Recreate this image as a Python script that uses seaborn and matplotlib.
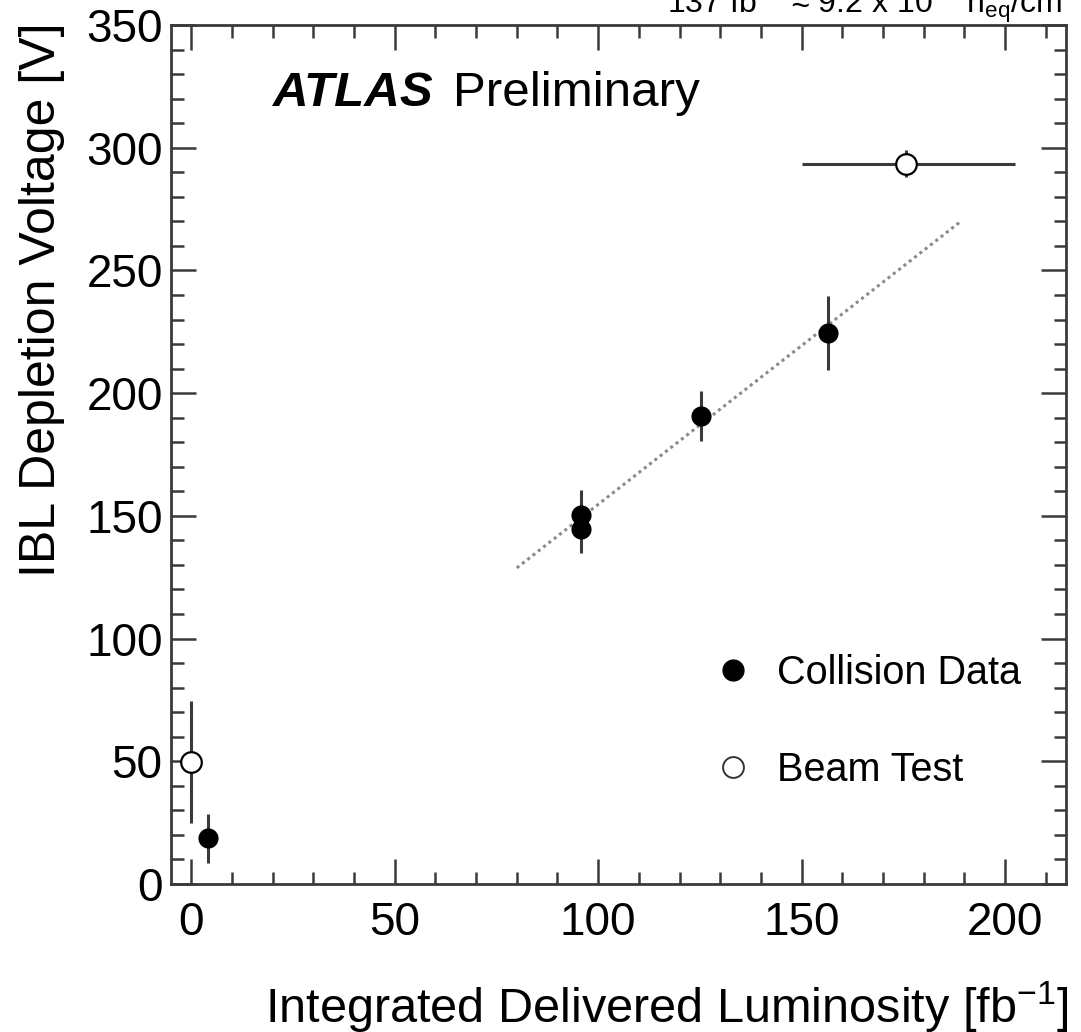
import matplotlib
matplotlib.use("Agg")
import matplotlib.pyplot as plt
from matplotlib.lines import Line2D
from matplotlib.ticker import MultipleLocator
import seaborn as sns
import pandas as pd

# ---- data ----
coll_lumi = [4.2, 95.8, 95.8, 125.3, 156.5]
coll_vdep = [18.7, 144.7, 150.5, 190.7, 224.5]
coll_err = [10, 10, 10, 10, 15]

beam_lumi = [0.0, 175.7]
beam_vdep = [49.7, 293.4]
beam_yerr = [25, 5.5]
beam_xerr_lo = [0, 25.7]
beam_xerr_hi = [0, 26.8]

fit_lumi = [80, 189]
fit_vdep = [128.8, 269.8]

legend_labels = ["Collision Data", "Beam Test"]
xlabel = r"Integrated Delivered Luminosity [fb$^{\mathregular{-1}}$]"
ylabel = "IBL Depletion Voltage [V]"
top_note = r"137 fb$^{\mathregular{-1}}$ ≈ 9.2 x 10$^{\mathregular{14}}$ n$_{\mathregular{eq}}$/cm$^{\mathregular{2}}$"

sns.set_theme(style="ticks")
plt.rcParams["font.family"] = ["Liberation Sans", "DejaVu Sans"]
plt.rcParams["mathtext.fontset"] = "custom"
plt.rcParams["mathtext.rm"] = "Liberation Sans"
plt.rcParams["mathtext.it"] = "Liberation Sans:italic"
plt.rcParams["mathtext.bf"] = "Liberation Sans:bold"
plt.rcParams["text.color"] = "black"
plt.rcParams["axes.labelcolor"] = "black"

coll = pd.DataFrame({"lumi": coll_lumi, "vdep": coll_vdep, "err": coll_err})
beam = pd.DataFrame({"lumi": beam_lumi, "vdep": beam_vdep, "yerr": beam_yerr,
                     "xlo": beam_xerr_lo, "xhi": beam_xerr_hi})
fit = pd.DataFrame({"lumi": fit_lumi, "vdep": fit_vdep})

fig = plt.figure(figsize=(10.81, 10.32), dpi=100)
ax = fig.add_axes([171 / 1081, 148 / 1032, 895 / 1081, 859 / 1032])

ink = "#3a3a3a"

# fit line
sns.lineplot(data=fit, x="lumi", y="vdep", ax=ax, color="#8a8a8a",
             linestyle=(0, (1, 1.2)), linewidth=2.2, zorder=1.5)

# error bars
ax.errorbar(coll["lumi"], coll["vdep"], yerr=coll["err"], fmt="none",
            ecolor=ink, elinewidth=2.2, capsize=0, zorder=2)
ax.errorbar(beam["lumi"], beam["vdep"], yerr=beam["yerr"],
            xerr=[beam["xlo"], beam["xhi"]], fmt="none",
            ecolor=ink, elinewidth=2.2, capsize=0, zorder=2)

# markers
sns.scatterplot(data=coll, x="lumi", y="vdep", ax=ax, color="black",
                s=210, edgecolor="black", linewidth=0, zorder=2.2)
sns.scatterplot(data=beam, x="lumi", y="vdep", ax=ax, facecolor="white",
                s=220, edgecolor="black", linewidth=1.6, zorder=2.2)

ax.set_xlim(-5, 215)
ax.set_ylim(0, 350)
ax.xaxis.set_major_locator(MultipleLocator(50))
ax.xaxis.set_minor_locator(MultipleLocator(10))
ax.yaxis.set_major_locator(MultipleLocator(50))
ax.yaxis.set_minor_locator(MultipleLocator(10))

for s in ax.spines.values():
    s.set_linewidth(2.0)
    s.set_color(ink)
    s.set_visible(True)

ax.tick_params(which="both", direction="in", top=True, right=True,
               color=ink, width=1.8)
ax.tick_params(which="major", length=18)
ax.tick_params(which="minor", length=9)
ax.tick_params(axis="x", which="major", labelsize=33, pad=12, labelcolor="black")
ax.tick_params(axis="y", which="major", labelsize=33, pad=6, labelcolor="black")

ax.set_xlabel(xlabel, fontsize=35, loc="right", color="black")
ax.set_ylabel(ylabel, fontsize=36, loc="top", color="black")
ax.xaxis.set_label_coords(1.003, -0.111)
ax.yaxis.set_label_coords(-0.118, 1.003)

# ATLAS label
ax.text(0.113, 0.906, "ATLAS", transform=ax.transAxes, fontsize=35.5,
        fontweight="bold", fontstyle="italic", va="baseline", ha="left",
        color="black")
ax.text(0.315, 0.906, "Preliminary", transform=ax.transAxes, fontsize=35.5,
        va="baseline", ha="left", color="black")

# legend
handles = [
    Line2D([], [], linestyle="none", marker="o", markersize=15,
           markerfacecolor="black", markeredgecolor="black"),
    Line2D([], [], linestyle="none", marker="o", markersize=15,
           markerfacecolor="white", markeredgecolor="#333333", markeredgewidth=1.4),
]
leg = ax.legend(handles, legend_labels, loc="center left",
                bbox_to_anchor=(0.606, 0.189), frameon=False, fontsize=28.5,
                handlelength=1.0, handletextpad=0.6, labelspacing=1.5,
                borderpad=0, borderaxespad=0)
for t in leg.get_texts():
    t.set_color("black")

fig.text(1076 / 1081, (1032 - 13) / 1032, top_note, fontsize=23,
         ha="right", va="baseline", color="black")

fig.savefig("out.png", dpi=100)
